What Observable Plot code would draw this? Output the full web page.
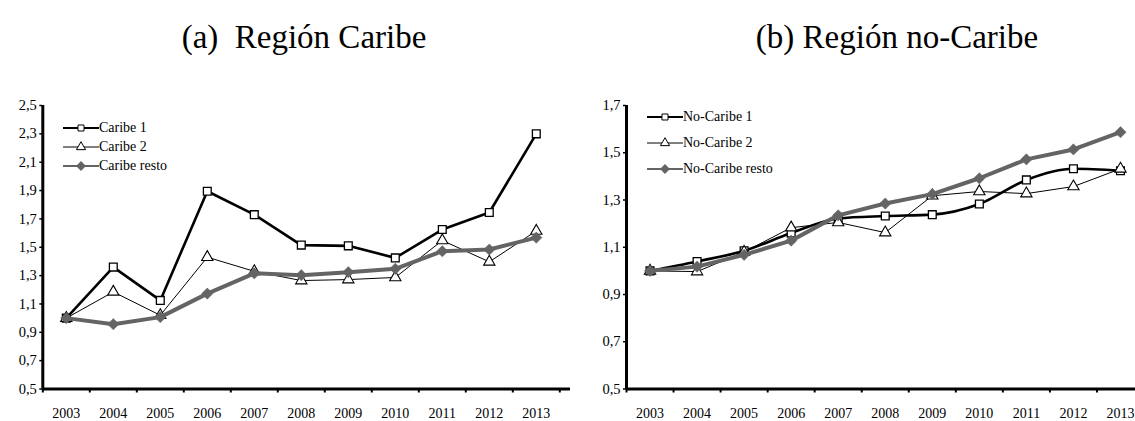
<!DOCTYPE html>
<html><head><meta charset="utf-8">
<script src="https://cdn.jsdelivr.net/npm/d3@7"></script>
<script src="https://cdn.jsdelivr.net/npm/@observablehq/plot@0.6"></script>
<style>
html,body{margin:0;padding:0;background:#fff;overflow:hidden;}
#wrap{position:relative;width:1135px;height:421px;overflow:hidden;font-family:"Liberation Serif",serif;color:#000;}
.title{position:absolute;top:21px;font-size:33px;line-height:1;white-space:nowrap;transform:translateX(-50%);}
.panel{position:absolute;top:90px;}
.panel svg{overflow:hidden;}
.legend{position:absolute;font-size:14px;line-height:1;}
.legend .row{position:absolute;left:0;display:flex;align-items:center;white-space:nowrap;transform:translateY(-50%);}
.legend svg{display:block;}
</style></head><body>
<div id="wrap">
  <div class="title" style="left:304px">(a)&nbsp; Región Caribe</div>
  <div class="title" style="left:897px">(b) Región no-Caribe</div>
</div>
<script>
// ---- data ----
const years = [2003, 2004, 2005, 2006, 2007, 2008, 2009, 2010, 2011, 2012, 2013];

const caribeNames = ["Caribe 1", "Caribe 2", "Caribe resto"];
const caribe1 = [1.00, 1.36, 1.125, 1.895, 1.73, 1.515, 1.51, 1.425, 1.625, 1.745, 2.30];
const caribe2 = [1.00, 1.185, 1.02, 1.43, 1.33, 1.265, 1.272, 1.287, 1.548, 1.397, 1.615];
const caribeResto = [1.00, 0.957, 1.007, 1.173, 1.316, 1.303, 1.324, 1.348, 1.472, 1.484, 1.568];
const caribeYTicks = [0.5, 0.7, 0.9, 1.1, 1.3, 1.5, 1.7, 1.9, 2.1, 2.3, 2.5];

const noCaribeNames = ["No-Caribe 1", "No-Caribe 2", "No-Caribe resto"];
const noCaribe1 = [1.00, 1.04, 1.085, 1.16, 1.222, 1.232, 1.238, 1.283, 1.385, 1.432, 1.424];
const noCaribe2 = [1.00, 0.997, 1.08, 1.183, 1.205, 1.162, 1.318, 1.336, 1.327, 1.357, 1.432];
const noCaribeResto = [1.00, 1.018, 1.068, 1.128, 1.235, 1.285, 1.325, 1.392, 1.472, 1.514, 1.587];
const noCaribeYTicks = [0.5, 0.7, 0.9, 1.1, 1.3, 1.5, 1.7];

// ---- styles ----
const GRAY = "#646464";
const styles = [
  {stroke: "#000", lineWidth: 2.6, symbol: "square", fill: "#fff", r: 4.4, rotate: 0, dotStroke: "#000", dotWidth: 1.3},
  {stroke: "#000", lineWidth: 1, symbol: "triangle", fill: "#fff", r: 4.2, rotate: 0, dotStroke: "#000", dotWidth: 1.1},
  {stroke: GRAY, lineWidth: 4, symbol: "square", fill: GRAY, r: 4.5, rotate: 45, dotStroke: GRAY, dotWidth: 0.5}
];
const fmt = d => d3.format(".1f")(d).replace(".", ",");

function panel({names, series, yTicks, left, width, marginLeft, rangeRight, curves}) {
  const xDomain = [years[0] - 0.5, years[years.length - 1] + 0.5];
  const bounds = years.map(y => y - 0.5).concat([years[years.length - 1] + 0.5]);
  const yDomain = [yTicks[0], yTicks[yTicks.length - 1]];
  const marks = [];
  series.forEach((vals, k) => {
    const s = styles[k];
    const rows = years.map((yr, i) => ({year: yr, value: vals[i], name: names[k]}));
    marks.push(Plot.line(rows, {x: "year", y: "value", stroke: s.stroke, strokeWidth: s.lineWidth, curve: curves[k]}));
    marks.push(Plot.dot(rows, {x: "year", y: "value", symbol: () => s.symbol, r: s.r, fill: s.fill, stroke: s.dotStroke, strokeWidth: s.dotWidth, rotate: s.rotate}));
  });
  const chart = Plot.plot({
    width, height: 331,
    marginTop: 15, marginBottom: 32.5, marginLeft, marginRight: 0,
    x: {domain: xDomain, range: [marginLeft, rangeRight], label: null},
    y: {domain: yDomain, label: null},
    symbol: {type: "identity"},
    style: {fontFamily: "Liberation Serif, serif", fontSize: "14px", color: "#000", background: "transparent", overflow: "hidden"},
    marks: [
      Plot.axisX(bounds, {tickSize: 4, tickFormat: () => "", strokeWidth: 2, label: null}),
      Plot.axisX(years, {tickSize: 0, tickPadding: 19, tickFormat: d => String(d), fontSize: 14, label: null}),
      Plot.axisY(yTicks, {tickSize: 3, tickPadding: 3, tickFormat: fmt, strokeWidth: 1.5, fontSize: 14.5, label: null}),
      Plot.ruleY([yDomain[0]], {stroke: "#000", strokeWidth: 3}),
      Plot.ruleX([xDomain[0]], {stroke: "#000", strokeWidth: 3}),
      ...marks
    ]
  });
  const div = document.createElement("div");
  div.className = "panel";
  div.style.left = left + "px";
  div.appendChild(chart);
  document.getElementById("wrap").appendChild(div);
}

function legend({names, left, top, rowYs}) {
  const lg = document.createElement("div");
  lg.className = "legend";
  lg.style.left = left + "px";
  lg.style.top = top + "px";
  names.forEach((n, k) => {
    const s = styles[k];
    const row = document.createElement("div");
    row.className = "row";
    row.style.top = rowYs[k] + "px";
    const svg = d3.create("svg").attr("width", 36).attr("height", 14);
    svg.append("line").attr("x1", 0).attr("x2", 36).attr("y1", 7).attr("y2", 7)
      .attr("stroke", s.stroke).attr("stroke-width", Math.min(s.lineWidth, 2));
    const sym = s.symbol === "triangle" ? d3.symbolTriangle : d3.symbolSquare;
    svg.append("path").attr("d", d3.symbol(sym, Math.PI * 3.4 * 3.4)())
      .attr("transform", `translate(18,7) rotate(${s.rotate})`)
      .attr("fill", s.fill).attr("stroke", s.dotStroke).attr("stroke-width", 1);
    row.appendChild(svg.node());
    const t = document.createElement("span");
    t.textContent = n;
    row.appendChild(t);
    lg.appendChild(row);
  });
  document.getElementById("wrap").appendChild(lg);
}

panel({names: caribeNames, series: [caribe1, caribe2, caribeResto], yTicks: caribeYTicks,
  left: 0, width: 570, marginLeft: 42.3, rangeRight: 559.3, curves: ["linear", "linear", "linear"]});
panel({names: noCaribeNames, series: [noCaribe1, noCaribe2, noCaribeResto], yTicks: noCaribeYTicks,
  left: 570, width: 565, marginLeft: 56, rangeRight: 573.5, curves: ["monotone-x", "linear", "linear"]});

legend({names: caribeNames, left: 63, top: 0, rowYs: [128, 147, 166]});
legend({names: noCaribeNames, left: 647, top: 0, rowYs: [117, 143, 169]});
</script>
</body></html>
